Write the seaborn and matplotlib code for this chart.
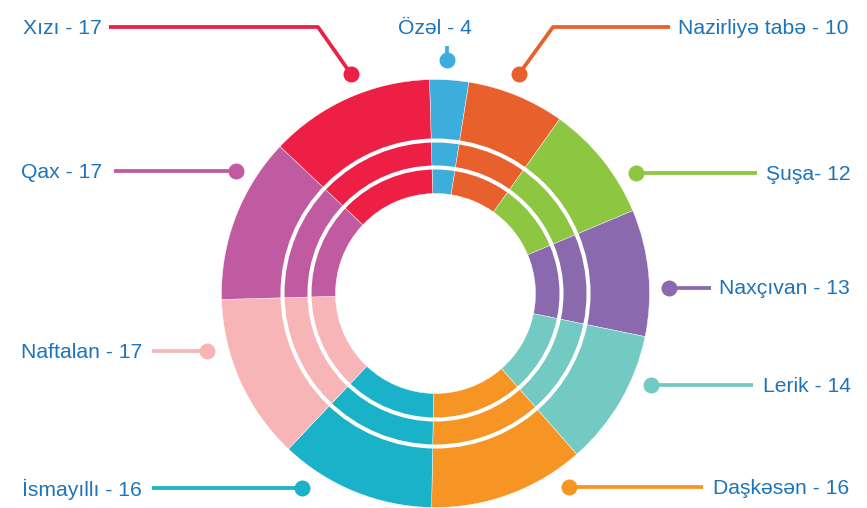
import numpy as np
import seaborn as sns
import matplotlib.pyplot as plt
from matplotlib.patches import Circle

sns.set_theme(style='white')
plt.rcParams['font.family'] = ['Liberation Sans', 'DejaVu Sans']

# data (clockwise from the top)
names = ['Özəl', 'Nazirliyə tabə', 'Şuşa', 'Naxçıvan', 'Lerik',
         'Daşkəsən', 'İsmayıllı', 'Naftalan', 'Qax', 'Xızı']
counts = [4, 10, 12, 13, 14, 16, 16, 17, 17, 17]
labels = ['Özəl - 4', 'Nazirliyə tabə - 10', 'Şuşa- 12', 'Naxçıvan - 13', 'Lerik - 14',
          'Daşkəsən - 16', 'İsmayıllı - 16', 'Naftalan - 17', 'Qax - 17', 'Xızı - 17']
colors = ['#3DADDB', '#E8612C', '#8DC641', '#8A69AF', '#72CAC3',
          '#F69523', '#1AB2C9', '#F8B5B8', '#C05BA2', '#EE1F45']

W, H = 867, 508
txt_color = '#1C75BC'

# leader layout in pixels (y down): text anchor, line path to the dot, text alignment
leaders = [
    ((435, 27), [(447, 46), (447, 60)], 'center'),
    ((678, 27), [(670, 27), (553, 27), (519, 74)], 'left'),
    ((766, 173), [(757, 173), (636, 173)], 'left'),
    ((719, 288), [(711, 288), (669, 288)], 'left'),
    ((763, 385), [(753, 385), (651, 385)], 'left'),
    ((713, 487), [(703, 487), (569, 487)], 'left'),
    ((142, 488), [(152, 488), (302, 488)], 'right'),
    ((142, 351), [(152, 351), (207, 351)], 'right'),
    ((102, 171), [(114, 171), (236, 171)], 'right'),
    ((102, 27), [(109, 27), (318, 27), (351, 74)], 'right'),
]

fig = plt.figure(figsize=(W / 100, H / 100), dpi=100)
ax = fig.add_axes([0, 0, 1, 1])

cx, cy = 435.5, H - 293.5
ax.pie(counts, colors=colors, startangle=91.6, counterclock=False,
       radius=214, center=(cx, cy),
       wedgeprops=dict(width=114, linewidth=0.3, edgecolor='white'))

for r in [126, 153]:
    ax.add_patch(Circle((cx, cy), r, fill=False, edgecolor='white', linewidth=2.9))

for lab, col, (tpos, path, ha) in zip(labels, colors, leaders):
    xs = [p[0] for p in path]
    ys = [H - p[1] for p in path]
    ax.plot(xs, ys, color=col, linewidth=2.7, solid_capstyle='butt')
    ax.plot(xs[-1], ys[-1], 'o', color=col, markersize=11.5, markeredgewidth=0)
    ax.text(tpos[0], H - tpos[1] - 1, lab, ha=ha, va='center', color=txt_color, fontsize=15.2)

ax.set_xlim(0, W)
ax.set_ylim(0, H)
ax.set_aspect('equal')
ax.axis('off')

plt.savefig('out.png', dpi=100)
